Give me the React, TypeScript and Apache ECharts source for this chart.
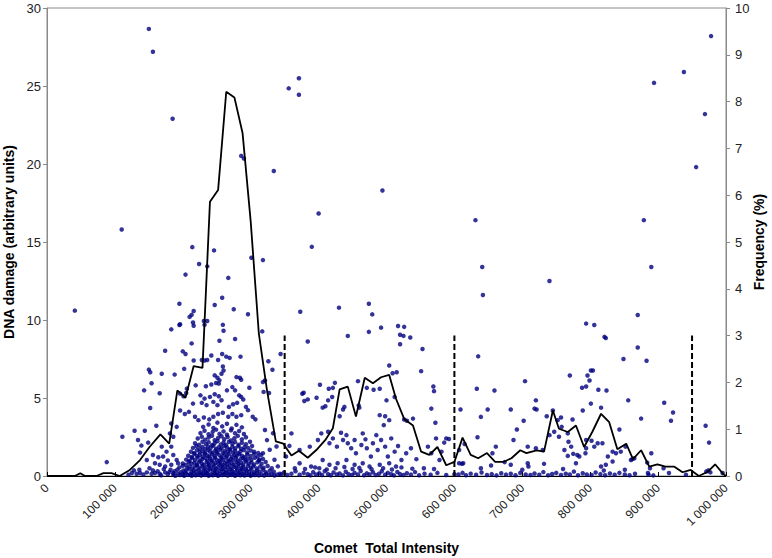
import { useEffect, useRef } from 'react';
import * as echarts from 'echarts';

// x values in thousands of intensity units
const xTickLabels = ['0', '100 000', '200 000', '300 000', '400 000', '500 000', '600 000', '700 000', '800 000', '900 000', '1 000 000'];

const freqX = [0, 41, 49, 56, 73, 83, 95, 107, 122, 137, 151, 167, 180, 192, 204, 216, 229, 240, 252, 264, 276, 288, 300, 312, 324, 337, 348, 360, 371, 384, 397, 410, 421, 431, 443, 455, 468, 480, 492, 504, 514, 526, 539, 551, 563, 575, 588, 600, 612, 624, 635, 648, 660, 672, 684, 697, 706, 721, 732, 745, 754, 767, 779, 791, 803, 816, 828, 840, 853, 863, 875, 887, 899, 911, 924, 936, 948, 960, 973, 984, 996, 1000];
const freqY = [0, 0, 0.06, 0, 0, 0.06, 0.06, 0, 0.13, 0.34, 0.62, 0.89, 0.69, 1.83, 1.67, 2.35, 2.31, 5.86, 6.11, 8.21, 8.09, 7.33, 5.44, 3.04, 1.83, 0.74, 0.69, 0.44, 0.54, 0.39, 0.56, 0.77, 1.02, 1.85, 1.91, 1.27, 2.1, 1.98, 2.11, 2.16, 1.65, 1.22, 1.08, 0.52, 0.45, 0.62, 0.23, 0.3, 0.82, 0.45, 0.38, 0.49, 0.3, 0.3, 0.38, 0.55, 0.49, 0.55, 0.52, 1.4, 1.01, 0.94, 1.08, 0.62, 0.94, 1.33, 1.15, 0.57, 0.69, 0.36, 0.55, 0.2, 0.25, 0.2, 0.2, 0.08, 0.13, 0, 0.09, 0.25, 0.04, 0];

const dividerX = [350, 600, 950];
const dividerTop = 9;

const outlierPoints: [number, number][] = [
  [110, 15.8], [150, 28.66], [156, 27.2], [185, 22.9], [214, 14.67], [246, 14.46], [301, 13.99], [318, 13.84], [334, 19.55], [286, 20.52], [290, 20.35], [356, 24.85], [371, 25.5], [371, 24.44], [400, 16.83], [390, 14.69], [494, 18.3], [631, 16.4], [641, 13.4], [642, 11.6], [740, 12.5], [894, 25.2], [938, 25.9], [978, 28.2], [956, 19.8], [969, 23.2], [879, 16.4], [890, 13.4],
];

const leftPoints: [number, number][] = [
  [41, 10.6], [88, 0.89], [111, 2.52], [129, 2.9], [144, 2.9], [134, 2.31], [149, 2.14], [139, 1.95], [137, 1.5], [143, 5.49], [150, 6.82], [152, 6.65], [154, 5.95], [166, 5.3], [169, 6.55], [152, 4.36], [161, 3.22], [174, 8.03], [183, 9.4], [188, 6.5], [195, 11.04], [195, 9.68], [183, 3.37], [181, 2.73], [186, 2.52], [191, 3.15], [156, 1.35], [164, 1.2], [171, 1.25], [178, 1.0], [186, 1.35], [191, 1.03], [169, 1.88], [176, 1.56], [183, 1.88], [151, 0.5], [159, 0.82], [166, 0.72], [174, 0.61], [183, 0.72], [193, 0.82], [147, 1.03],
  [125, 0.19], [132, 0.14], [137, 0.19], [142, 0.1], [147, 0.23], [154, 0.14], [159, 0.19], [166, 0.14], [174, 0.23], [178, 0.12], [186, 0.19], [128, 0.36], [136, 0.4], [156, 0.36], [172, 0.44], [182, 0.4], [120, 0.08], [163, 0.3], [168, 0.05], [180, 0.25],
];

const peakPoints: [number, number][] = [
  [224, 13.59], [236, 13.44], [204, 12.91], [267, 12.7], [258, 11.43], [247, 10.96], [216, 10.58], [213, 10.33], [275, 10.69], [296, 10.37], [210, 10.2], [215, 9.84], [216, 9.63], [196, 9.73], [259, 9.69], [231, 9.94], [236, 9.94], [232, 9.69], [260, 9.31], [317, 9.27], [254, 8.67], [277, 8.78], [213, 8.5], [200, 7.99], [204, 7.82], [258, 7.82], [264, 7.65], [269, 7.57], [285, 7.65], [326, 7.36], [344, 7.82], [242, 7.72], [252, 7.44], [202, 6.87], [216, 7.4], [228, 7.44], [232, 7.4], [236, 7.44], [259, 7.02], [260, 6.76], [257, 6.55], [251, 6.3], [254, 6.13], [253, 5.92], [247, 6.45], [279, 6.34], [284, 6.3], [286, 6.17], [321, 6.13], [318, 6.02], [332, 6.81], [219, 5.81], [234, 5.75], [242, 5.87], [249, 5.96], [273, 5.7], [277, 5.49], [298, 5.66], [319, 5.39], [327, 5.32], [201, 5.11], [196, 5.28], [206, 5.6], [205, 5.32], [226, 5.17], [232, 4.96], [240, 5.07], [247, 5.24], [253, 5.11], [257, 4.86], [265, 5.49], [283, 5.17], [286, 5.07], [289, 4.9], [215, 4.64], [228, 4.69], [235, 4.54], [245, 4.75], [251, 4.54], [268, 4.43], [274, 4.6], [280, 4.69], [293, 4.43], [296, 4.22], [303, 3.8], [307, 3.63], [321, 2.95], [196, 4.2], [203, 3.97], [209, 4.11], [218, 3.8], [223, 3.58], [231, 3.75], [239, 3.63], [245, 3.8], [252, 3.97], [259, 4.05], [267, 3.8], [273, 3.97], [279, 3.8], [286, 3.9],
  [324, 2.3], [333, 2.74], [338, 1.89], [328, 1.68], [318, 1.46], [335, 1.04], [340, 0.62], [313, 1.04],
];

const corePoints: [number, number][] = [
  [186, 0.1], [189, 0.02], [193, 0.15], [196, 0.06], [200, 0.11], [202, 0.01], [205, 0.17], [208, 0.07], [211, 0.12], [213, 0.02], [216, 0.16], [219, 0.05], [222, 0.1], [225, 0.18], [227, 0.03], [230, 0.13], [233, 0.07], [236, 0.16], [238, 0.02], [241, 0.1], [244, 0.05], [247, 0.17], [249, 0.09], [252, 0.02], [255, 0.14], [258, 0.06], [261, 0.11], [263, 0.19], [266, 0.03], [269, 0.13], [272, 0.07], [274, 0.16], [277, 0.02], [280, 0.1], [283, 0.18], [285, 0.05], [288, 0.12], [291, 0.03], [294, 0.15], [297, 0.08], [300, 0.02], [303, 0.13], [306, 0.06], [309, 0.17], [312, 0.04], [316, 0.11], [320, 0.03], [323, 0.15], [327, 0.07], [331, 0.12], [335, 0.03], [339, 0.09], [343, 0.14],
  [188, 0.3], [192, 0.41], [197, 0.24], [201, 0.35], [204, 0.28], [209, 0.43], [213, 0.25], [216, 0.36], [220, 0.3], [223, 0.42], [227, 0.26], [231, 0.37], [234, 0.22], [237, 0.33], [240, 0.44], [244, 0.27], [247, 0.38], [250, 0.23], [254, 0.33], [257, 0.43], [260, 0.28], [264, 0.37], [267, 0.24], [270, 0.42], [273, 0.31], [277, 0.25], [280, 0.39], [284, 0.3], [287, 0.44], [290, 0.26], [294, 0.36], [298, 0.29], [301, 0.42], [305, 0.24], [309, 0.35], [313, 0.28], [318, 0.4], [322, 0.25], [328, 0.34], [334, 0.27],
  [195, 0.55], [200, 0.66], [206, 0.5], [210, 0.62], [214, 0.48], [218, 0.6], [221, 0.68], [225, 0.52], [229, 0.63], [232, 0.47], [236, 0.58], [239, 0.69], [242, 0.51], [246, 0.62], [249, 0.46], [252, 0.57], [256, 0.67], [259, 0.5], [262, 0.61], [266, 0.55], [269, 0.68], [272, 0.48], [276, 0.6], [279, 0.52], [282, 0.66], [286, 0.5], [289, 0.59], [293, 0.46], [296, 0.65], [300, 0.54], [304, 0.62], [309, 0.49], [314, 0.6], [319, 0.53], [325, 0.64], [331, 0.5],
  [200, 0.8], [205, 0.72], [209, 0.9], [213, 0.78], [217, 0.86], [221, 0.73], [224, 0.92], [228, 0.8], [231, 0.71], [235, 0.88], [238, 0.77], [242, 0.93], [245, 0.74], [248, 0.85], [252, 0.79], [255, 0.91], [258, 0.72], [262, 0.84], [265, 0.77], [268, 0.94], [272, 0.81], [275, 0.72], [279, 0.89], [282, 0.78], [286, 0.85], [289, 0.73], [293, 0.92], [297, 0.8], [301, 0.87], [305, 0.74], [310, 0.88], [316, 0.79], [322, 0.9],
  [205, 1.05], [210, 0.98], [214, 1.15], [218, 1.02], [222, 1.18], [226, 0.97], [229, 1.09], [233, 1.16], [236, 1.0], [240, 1.12], [243, 0.99], [247, 1.17], [250, 1.05], [254, 0.96], [257, 1.13], [260, 1.03], [264, 1.18], [267, 0.99], [271, 1.1], [274, 1.02], [278, 1.16], [281, 0.97], [285, 1.08], [289, 1.15], [292, 1.0], [296, 1.11], [301, 1.04], [306, 1.17], [312, 0.99], [318, 1.1],
  [208, 1.3], [213, 1.22], [217, 1.41], [221, 1.28], [225, 1.36], [229, 1.23], [232, 1.43], [236, 1.31], [239, 1.25], [243, 1.39], [247, 1.27], [250, 1.44], [254, 1.33], [257, 1.21], [261, 1.37], [265, 1.29], [268, 1.42], [272, 1.24], [276, 1.35], [279, 1.26], [283, 1.4], [287, 1.3], [291, 1.22], [295, 1.38], [300, 1.28], [305, 1.42], [310, 1.25], [315, 1.35],
  [212, 1.55], [217, 1.48], [221, 1.66], [225, 1.52], [229, 1.6], [233, 1.47], [237, 1.68], [240, 1.56], [244, 1.5], [248, 1.64], [251, 1.53], [255, 1.69], [259, 1.49], [262, 1.6], [266, 1.54], [270, 1.67], [274, 1.5], [277, 1.62], [281, 1.46], [285, 1.58], [290, 1.66], [295, 1.51], [300, 1.63], [305, 1.55], [311, 1.48],
  [215, 1.8], [220, 1.92], [225, 1.75], [229, 1.87], [233, 1.73], [237, 1.9], [241, 1.79], [245, 1.94], [249, 1.74], [253, 1.85], [257, 1.77], [261, 1.93], [265, 1.82], [269, 1.72], [273, 1.88], [277, 1.78], [282, 1.91], [286, 1.75], [291, 1.86], [296, 1.8], [302, 1.92],
  [218, 2.1], [224, 2.0], [229, 2.2], [234, 2.05], [238, 2.17], [243, 1.98], [247, 2.12], [251, 2.23], [256, 2.02], [260, 2.15], [264, 1.99], [268, 2.2], [273, 2.07], [277, 2.18], [282, 2.0], [287, 2.13], [293, 2.04], [299, 2.2],
  [222, 2.4], [228, 2.52], [233, 2.33], [238, 2.47], [243, 2.58], [247, 2.3], [252, 2.44], [257, 2.55], [261, 2.36], [266, 2.5], [271, 2.28], [276, 2.42], [281, 2.57], [287, 2.35], [293, 2.48],
  [226, 2.75], [232, 2.9], [238, 2.68], [244, 2.83], [249, 2.97], [254, 2.7], [260, 2.86], [265, 2.64], [271, 2.93], [277, 2.74], [283, 2.88], [290, 2.69],
  [230, 3.15], [238, 3.3], [245, 3.08], [251, 3.42], [258, 3.18], [265, 3.35], [272, 3.05], [279, 3.28], [287, 3.12],
];

const midPoints: [number, number][] = [
  [373, 10.53], [430, 10.79], [474, 11.04], [479, 10.36], [443, 8.98], [474, 9.24], [492, 9.51], [517, 9.62], [526, 9.56], [520, 9.05], [525, 8.98], [535, 8.88], [520, 8.45], [553, 8.14], [384, 8.62], [504, 7.08], [509, 6.59], [515, 6.65], [551, 6.72], [458, 6.08], [424, 5.97], [421, 5.65], [415, 5.59], [402, 5.85], [378, 5.34], [376, 5.27], [384, 4.91], [379, 4.81], [397, 5.02], [406, 4.38], [410, 4.47], [414, 4.85], [420, 5.06], [438, 4.43], [436, 4.26], [431, 3.83], [459, 4.53], [460, 4.38], [471, 5.65], [481, 5.53], [490, 5.59], [500, 4.85], [498, 3.83], [504, 3.58], [490, 3.9], [512, 5.06], [526, 3.62], [530, 3.54], [539, 3.68], [569, 5.74], [570, 5.44], [566, 4.32], [572, 3.41], [573, 2.41],
  [360, 2.73], [357, 1.93], [352, 1.25], [372, 1.67], [387, 1.88], [399, 2.31], [404, 2.73], [414, 2.84], [416, 2.1], [421, 2.41], [427, 1.88], [433, 2.77], [436, 2.31], [441, 2.62], [443, 2.1], [448, 1.78], [453, 2.31], [455, 1.46], [463, 1.99], [465, 2.73], [469, 2.35], [471, 1.78], [477, 1.25], [480, 2.1], [485, 2.62], [487, 1.67], [492, 2.31], [496, 3.26], [498, 1.88], [502, 1.25], [507, 2.41], [512, 1.56], [517, 1.92], [522, 1.03], [529, 1.46], [536, 1.78], [544, 1.08], [561, 1.88], [566, 1.46], [578, 1.03], [406, 1.03], [416, 0.72], [428, 0.82], [441, 1.03], [453, 0.72], [465, 0.82], [475, 0.61], [490, 0.72], [504, 0.82], [514, 0.61], [401, 0.5], [389, 0.61], [372, 0.82],
  [345, 0.1], [349, 0.22], [354, 0.06], [360, 0.15], [366, 0.3], [372, 0.08], [378, 0.2], [384, 0.12], [388, 0.05], [392, 0.25], [396, 0.1], [401, 0.18], [405, 0.06], [409, 0.3], [414, 0.12], [418, 0.05], [422, 0.22], [427, 0.1], [431, 0.16], [436, 0.04], [440, 0.27], [444, 0.12], [449, 0.07], [453, 0.2], [458, 0.1], [462, 0.32], [467, 0.05], [471, 0.17], [475, 0.1], [480, 0.24], [484, 0.06], [489, 0.14], [493, 0.3], [498, 0.08], [502, 0.2], [507, 0.11], [511, 0.04], [516, 0.26], [520, 0.12], [525, 0.06], [530, 0.18], [536, 0.09], [542, 0.25], [548, 0.05], [556, 0.15], [565, 0.08], [575, 0.2], [588, 0.06], [600, 0.12],
  [365, 0.5], [380, 0.45], [395, 0.55], [412, 0.42], [425, 0.5], [438, 0.58], [450, 0.45], [460, 0.52], [478, 0.44], [495, 0.5], [508, 0.42], [522, 0.55], [538, 0.47], [555, 0.5], [570, 0.45],
];

const rightPoints: [number, number][] = [
  [635, 7.67], [633, 5.59], [659, 5.48], [609, 4.26], [639, 3.79], [649, 4.26], [704, 6.08], [683, 4.26], [720, 4.85], [718, 4.32], [721, 4.26], [692, 2.98], [687, 2.31], [702, 3.54], [708, 1.88], [634, 2.48], [661, 1.88], [656, 1.46], [615, 2.05], [607, 1.67], [588, 2.41], [592, 2.37], [585, 2.14], [581, 1.56], [611, 0.78], [613, 0.82], [607, 0.82], [639, 0.5], [654, 0.67], [674, 0.89], [683, 0.72], [708, 0.82], [709, 0.61], [720, 1.78], [730, 1.67], [732, 0.78], [736, 3.83], [745, 4.2], [752, 3.58], [757, 3.75], [758, 3.15], [747, 2.84], [754, 2.52], [740, 2.62], [767, 2.73], [768, 2.2], [774, 3.62], [772, 1.88], [775, 1.42], [767, 1.29], [762, 1.67], [770, 6.44], [781, 1.35], [784, 1.25], [779, 0.82], [788, 5.66], [794, 5.74], [796, 6.44], [801, 6.76], [804, 6.76], [799, 6.12], [789, 4.2], [801, 4.64], [794, 9.77], [806, 9.68], [821, 8.92], [823, 8.84], [812, 5.53], [824, 5.48], [816, 4.38], [794, 2.31], [802, 2.26], [794, 1.78], [793, 1.46], [806, 1.88], [811, 2.1], [818, 2.1], [816, 0.61], [823, 0.72], [833, 0.93], [843, 2.98], [849, 7.5], [856, 4.85], [870, 8.24], [870, 10.32], [852, 1.88], [860, 1.03], [838, 1.46], [845, 1.56], [833, 1.56], [826, 1.25],
  [883, 7.39], [875, 3.68], [909, 4.7], [922, 4.07], [919, 3.54], [970, 3.22], [975, 2.14], [890, 1.46], [865, 1.14], [862, 1.08], [884, 0.86], [888, 0.5], [908, 0.5], [893, 0.04], [886, 0.08],
  [606, 0.1], [612, 0.2], [617, 0.05], [624, 0.15], [632, 0.08], [640, 0.22], [648, 0.06], [655, 0.12], [662, 0.04], [669, 0.18], [676, 0.09], [683, 0.14], [690, 0.05], [697, 0.2], [705, 0.1], [712, 0.06], [718, 0.16], [725, 0.08], [731, 0.25], [738, 0.05], [744, 0.13], [750, 0.2], [757, 0.07], [764, 0.15], [770, 0.1], [776, 0.28], [782, 0.05], [789, 0.18], [795, 0.1], [802, 0.06], [808, 0.22], [815, 0.12], [822, 0.05], [829, 0.16], [836, 0.08], [843, 0.2], [851, 0.1], [858, 0.05], [866, 0.14], [885, 0.19], [916, 0.19], [941, 0.08], [971, 0.29], [974, 0.36], [977, 0.23], [995, 0.19], [851, 0.4], [700, 0.4], [760, 0.45], [820, 0.35],
];

const FONT = '"Liberation Sans", Arial, sans-serif';

export default function App() {
  const ref = useRef<HTMLDivElement>(null);
  useEffect(() => {
    if (!ref.current) return;
    const chart = echarts.init(ref.current, null, { renderer: 'svg' });
    const scatterData = [...outlierPoints, ...leftPoints, ...peakPoints, ...corePoints, ...midPoints, ...rightPoints];
    const lineData = freqX.map((x, i) => [x, freqY[i]]);
    const dividerSeries = dividerX.map((x) => ({
      type: 'line',
      yAxisIndex: 0,
      data: [[x, 0], [x, dividerTop]],
      symbol: 'none',
      silent: true,
      z: 4,
      lineStyle: { color: '#000', width: 2, type: [6, 3] },
    }));
    chart.setOption({
      animation: false,
      backgroundColor: '#fff',
      textStyle: { fontFamily: FONT },
      grid: {
        left: 47, right: 46, top: 8, bottom: 82, containLabel: false, outerBoundsMode: 'none',
        show: true, borderColor: '#8a8a8a', borderWidth: 1, backgroundColor: 'transparent',
      },
      xAxis: {
        type: 'value', min: 0, max: 1000, interval: 100,
        axisLine: { show: true, onZero: false, lineStyle: { color: '#000', width: 1 } },
        axisTick: { show: true, inside: true, length: 4, lineStyle: { color: '#000' } },
        splitLine: { show: false },
        axisLabel: { rotate: 45, margin: 10, fontSize: 12, color: '#222', fontFamily: FONT, formatter: (v: number) => xTickLabels[Math.round(v / 100)] },
        name: 'Comet  Total Intensity', nameLocation: 'middle', nameGap: 65,
        nameTextStyle: { fontWeight: 'bold', fontSize: 14, color: '#000', fontFamily: FONT },
      },
      yAxis: [
        {
          type: 'value', min: 0, max: 30, interval: 5, position: 'left',
          axisLine: { show: true, lineStyle: { color: '#8a8a8a' } },
          axisTick: { show: true, length: 4, lineStyle: { color: '#8a8a8a' } },
          splitLine: { show: false },
          axisLabel: { fontSize: 13, color: '#222', margin: 6, fontFamily: FONT },
          name: 'DNA damage (arbitrary units)', nameLocation: 'middle', nameGap: 30,
          nameTextStyle: { fontWeight: 'bold', fontSize: 14, color: '#000', fontFamily: FONT },
        },
        {
          type: 'value', min: 0, max: 10, interval: 1, position: 'right',
          axisLine: { show: true, lineStyle: { color: '#8a8a8a' } },
          axisTick: { show: true, length: 4, lineStyle: { color: '#8a8a8a' } },
          splitLine: { show: false },
          axisLabel: { fontSize: 13, color: '#222', margin: 9, fontFamily: FONT },
          name: 'Frequency (%)', nameLocation: 'middle', nameGap: 26, nameMoveOverlap: false,
          nameTextStyle: { fontWeight: 'bold', fontSize: 14, color: '#000', fontFamily: FONT },
        },
      ],
      series: [
        {
          type: 'scatter', yAxisIndex: 0, data: scatterData, symbol: 'circle', symbolSize: 4.5, z: 2,
          itemStyle: { color: '#000080' },
        },
        {
          type: 'line', yAxisIndex: 1, data: lineData, symbol: 'none', z: 3,
          lineStyle: { color: '#000', width: 1.8 },
        },
        ...dividerSeries,
      ],
    });
    return () => chart.dispose();
  }, []);
  return <div ref={ref} style={{ position: 'absolute', left: 0, top: 0, width: 772, height: 558 }} />;
}
